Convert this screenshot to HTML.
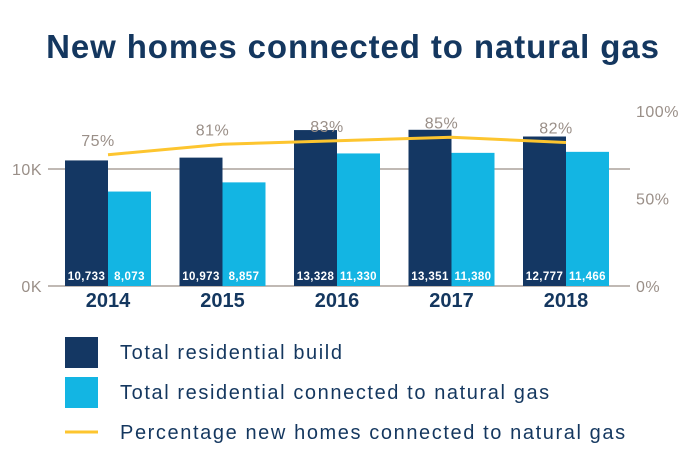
<!DOCTYPE html>
<html><head><meta charset="utf-8"><style>
body{margin:0;background:#fff;font-family:"Liberation Sans",sans-serif}
</style></head><body>
<svg width="700" height="470" xmlns="http://www.w3.org/2000/svg">
<text x="353" y="58" text-anchor="middle" font-size="33" font-weight="bold" fill="#14375f" letter-spacing="0.9">New homes connected to natural gas</text>
<g id="axes"></g>
<g id="bars"></g>
<g id="line"></g>
<g>
<rect x="65" y="337" width="33" height="31" fill="#143763"/>
<text x="120" y="359" font-size="20" letter-spacing="1.6" fill="#14375f">Total residential build</text>
<rect x="65" y="377" width="33" height="31" fill="#13b5e3"/>
<text x="120" y="399" font-size="20" letter-spacing="1.6" fill="#14375f">Total residential connected to natural gas</text>
<line x1="65" y1="432" x2="98" y2="432" stroke="#fdc52f" stroke-width="3"/>
<text x="120" y="439" font-size="20" letter-spacing="1.6" fill="#14375f">Percentage new homes connected to natural gas</text>
</g>
</svg>
<script>
const years=["2014","2015","2016","2017","2018"];
const totalBuild=[10733,10973,13328,13351,12777];
const connected=[8073,8857,11330,11380,11466];
const percent=[75,81,83,85,82];
const leftTicks=[0,10000];
const leftTickLabels=["0K","10K"];
const rightTicks=[0,50,100];
const rightTickLabels=["0%","50%","100%"];

const NS="http://www.w3.org/2000/svg";
const base=286;
const yL=v=>base-v*0.0117;
const yR=p=>base-p*1.75;
const xC=i=>108+i*114.5;
const bw=43;
function mk(tag,attrs,parent,txt){const e=document.createElementNS(NS,tag);for(const k in attrs)e.setAttribute(k,attrs[k]);if(txt!==undefined)e.textContent=txt;parent.appendChild(e);return e;}
const axes=document.getElementById('axes'),bars=document.getElementById('bars'),line=document.getElementById('line');
leftTicks.forEach((t,i)=>{
  const g=mk('line',{x1:48,x2:630,y1:yL(t),y2:yL(t),stroke:'#9a8f88','stroke-width':1.2},axes);
  
  
  const l=mk('text',{x:42,y:yL(t)+6,'text-anchor':'end','font-size':16,'letter-spacing':0.5,fill:'#9a8f88'},axes,leftTickLabels[i]);
  
  
});
rightTicks.forEach((t,i)=>{
  const l=mk('text',{x:636,y:yR(t)+6,'font-size':16,'letter-spacing':0.5,fill:'#9a8f88'},axes,rightTickLabels[i]);
  
  
});
years.forEach((yr,i)=>{
  const c=xC(i);
  const b1=mk('rect',{x:c-bw,y:yL(totalBuild[i]),width:bw,height:base-yL(totalBuild[i]),fill:'#143763'},bars);
  
  
  const b2=mk('rect',{x:c,y:yL(connected[i]),width:bw,height:base-yL(connected[i]),fill:'#13b5e3'},bars);
  
  
  const t1=mk('text',{x:c-bw/2,y:280,'text-anchor':'middle','font-size':11.5,'letter-spacing':0.4,'font-weight':'bold',fill:'#fff'},bars,totalBuild[i].toLocaleString('en-US'));
  
  
  const t2=mk('text',{x:c+bw/2,y:280,'text-anchor':'middle','font-size':11.5,'letter-spacing':0.4,'font-weight':'bold',fill:'#fff'},bars,connected[i].toLocaleString('en-US'));
  
  
  const yl=mk('text',{x:c,y:307,'text-anchor':'middle','font-size':20,'font-weight':'bold',fill:'#14375f'},axes,yr);
  
  
});
const pts=percent.map((p,i)=>xC(i)+','+yR(p)).join(' ');
const pl=mk('polyline',{points:pts,fill:'none',stroke:'#fdc52f','stroke-width':3},line);


percent.forEach((p,i)=>{
  const t=mk('text',{x:xC(i)-10,y:yR(p)-9,'text-anchor':'middle','font-size':16,'letter-spacing':0.5,fill:'#9a8f88'},line,p+'%');
  
  
});
</script>
</body></html>
